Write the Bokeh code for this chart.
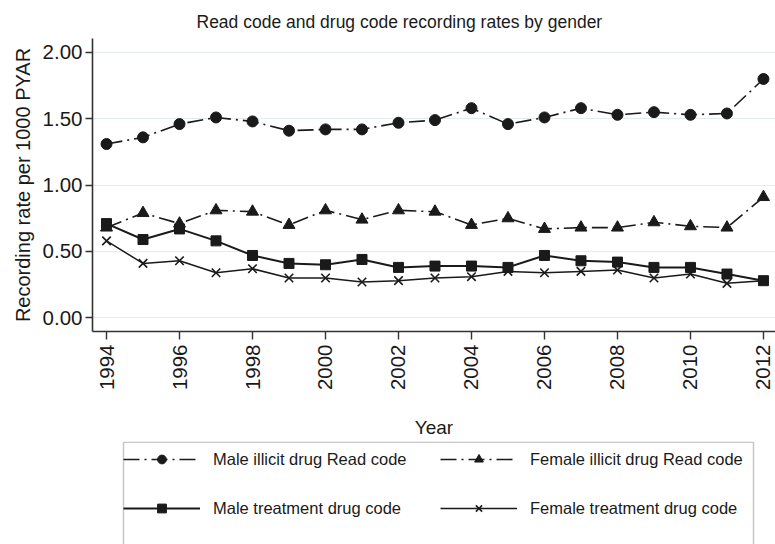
import math
from bokeh.plotting import figure
from bokeh.layouts import column
from bokeh.models import (Legend, LegendItem, NumeralTickFormatter, FixedTicker,
                          Range1d, Title, BoxAnnotation)
from bokeh.embed import file_html
from bokeh.resources import INLINE

years = [1994, 1995, 1996, 1997, 1998, 1999, 2000, 2001, 2002, 2003,
         2004, 2005, 2006, 2007, 2008, 2009, 2010, 2011, 2012]
male_illicit_read = [1.31, 1.36, 1.46, 1.51, 1.48, 1.41, 1.42, 1.42, 1.47, 1.49,
                     1.58, 1.46, 1.51, 1.58, 1.53, 1.55, 1.53, 1.54, 1.80]
female_illicit_read = [0.68, 0.79, 0.71, 0.81, 0.80, 0.70, 0.81, 0.74, 0.81, 0.80,
                       0.70, 0.75, 0.67, 0.68, 0.68, 0.72, 0.69, 0.68, 0.91]
male_treatment = [0.71, 0.59, 0.67, 0.58, 0.47, 0.41, 0.40, 0.44, 0.38, 0.39,
                  0.39, 0.38, 0.47, 0.43, 0.42, 0.38, 0.38, 0.33, 0.28]
female_treatment = [0.58, 0.41, 0.43, 0.34, 0.37, 0.30, 0.30, 0.27, 0.28, 0.30,
                    0.31, 0.35, 0.34, 0.35, 0.36, 0.30, 0.33, 0.26, 0.28]
x_ticks = [1994, 1996, 1998, 2000, 2002, 2004, 2006, 2008, 2010, 2012]
y_ticks = [0.0, 0.5, 1.0, 1.5, 2.0]
series_labels = ["Male illicit drug Read code", "Female illicit drug Read code",
                 "Male treatment drug code", "Female treatment drug code"]

FONT = "Liberation Sans"
INK = "#1a1a1a"
dash_dot = "16 5 2 5"

styles = [
    dict(line=dict(line_width=1.6, line_dash=dash_dot),
         marker=dict(marker="circle", size=11, fill_color=INK)),
    dict(line=dict(line_width=1.6, line_dash=dash_dot),
         marker=dict(marker="triangle", size=12, fill_color=INK)),
    dict(line=dict(line_width=2.0),
         marker=dict(marker="square", size=10, fill_color=INK)),
    dict(line=dict(line_width=1.5),
         marker=dict(marker="x", size=12, line_width=1.6)),
]
series = [male_illicit_read, female_illicit_read, male_treatment, female_treatment]

# ---------------- main chart ----------------
p = figure(width=775, height=441, output_backend="svg", toolbar_location=None,
           x_range=Range1d(1993.616, 2012.33), y_range=Range1d(-0.103, 2.105),
           min_border_left=92, min_border_right=0, min_border_top=38,
           min_border_bottom=109)
p.outline_line_color = None
p.background_fill_color = "white"
p.border_fill_color = "white"

p.add_layout(Title(text="Read code and drug code recording rates by gender",
                   align="left", offset=104, text_font=FONT,
                   text_font_size="17.5px", text_font_style="normal",
                   text_color=INK, vertical_align="middle", standoff=12), "above")

for vals, st in zip(series, styles):
    p.line(years, vals, line_color=INK, **st["line"])
    p.scatter(years, vals, line_color=INK, **st["marker"])

p.xgrid.visible = False
p.ygrid.grid_line_color = "#e3ebef"
p.ygrid.grid_line_width = 1.2
p.ygrid.ticker = FixedTicker(ticks=y_ticks)

p.yaxis.ticker = FixedTicker(ticks=y_ticks)
p.yaxis.formatter = NumeralTickFormatter(format="0.00")
p.yaxis.axis_label = "Recording rate per 1000 PYAR"
p.xaxis.ticker = FixedTicker(ticks=x_ticks)
p.xaxis.axis_label = "Year"
p.xaxis.major_label_orientation = math.pi / 2

for ax in (p.xaxis[0], p.yaxis[0]):
    ax.axis_line_color = "#333333"
    ax.axis_line_width = 1.6
    ax.major_tick_line_color = "#333333"
    ax.major_tick_line_width = 1.4
    ax.minor_tick_line_color = None
    ax.major_label_text_font = FONT
    ax.major_label_text_font_size = "20.5px"
    ax.major_label_text_color = INK
    ax.axis_label_text_font = FONT
    ax.axis_label_text_font_style = "normal"
    ax.axis_label_text_color = INK

p.yaxis.major_tick_out = 7
p.yaxis.major_tick_in = 0
p.yaxis.major_label_standoff = 3
p.yaxis.axis_label_text_font_size = "20px"
p.yaxis.axis_label_standoff = 6
p.xaxis.major_tick_out = 8
p.xaxis.major_tick_in = 0
p.xaxis.major_label_standoff = 5
p.xaxis.axis_label_text_font_size = "19px"
p.xaxis.axis_label_standoff = 24

# ---------------- legend panel ----------------
# (column() aligns this panel's frame with the chart's frame: x 92..775)
lg = figure(width=775, height=103, output_backend="svg", toolbar_location=None,
            x_range=Range1d(92, 775), y_range=Range1d(103, 0),
            x_axis_location=None, y_axis_location=None, min_border=0)
lg.outline_line_color = None
lg.xgrid.visible = False
lg.ygrid.visible = False
lg.background_fill_color = "white"
lg.border_fill_color = "white"

nan = float("nan")
items = []
for label, st in zip(series_labels, styles):
    r_line = lg.line([nan], [nan], line_color=INK, **st["line"])
    r_mark = lg.scatter([nan], [nan], line_color=INK, **st["marker"])
    items.append(LegendItem(label=label, renderers=[r_line, r_mark]))

lg.add_layout(BoxAnnotation(left=123, right=753, top=0.8, bottom=200,
                            fill_alpha=0, line_color="#444444", line_width=1.5))

legend = Legend(items=items, ncols=2, orientation="horizontal",
                location=(31, 18), margin=0, padding=2, spacing=13,
                glyph_width=77, glyph_height=22, label_height=36,
                label_width=214, label_standoff=13,
                label_text_font=FONT, label_text_font_size="16.5px",
                label_text_color=INK,
                border_line_color=None, background_fill_alpha=0)
lg.add_layout(legend)

layout = column(p, lg, spacing=0)
open("out.html", "w").write(file_html(layout, INLINE))
